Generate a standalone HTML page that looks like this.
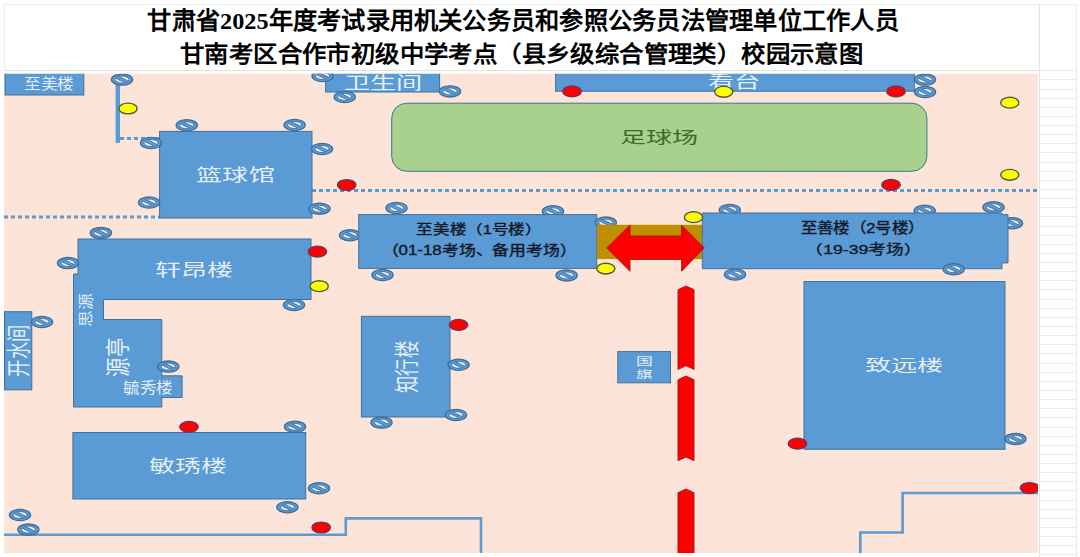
<!DOCTYPE html>
<html lang="zh-CN"><head><meta charset="utf-8"><style>
html,body{margin:0;padding:0;background:#fff;width:1080px;height:557px;overflow:hidden}
body{position:relative;font-family:"Liberation Sans",sans-serif}
.t{position:absolute;left:0;top:0;white-space:nowrap;line-height:1;transform-origin:0 0}
.title{position:absolute;left:0;top:0;font-family:"Liberation Serif",serif;font-weight:bold;font-size:24px;line-height:1;color:#000;white-space:nowrap;transform-origin:0 0}
.sf{font-family:"Liberation Serif",serif}
svg{position:absolute;left:0;top:0}
</style></head><body>
<div style="position:absolute;left:4px;top:4px;width:1071px;height:65px;border:1px solid #ececec;border-bottom-color:#e0e0e0;box-sizing:content-box"></div><div style="position:absolute;left:1039px;top:4px;width:1px;height:553px;background:#e2e2e2"></div><div style="position:absolute;left:1075.5px;top:4px;width:1px;height:553px;background:#ececec"></div><div style="position:absolute;left:1039px;top:70.2px;width:37px;height:1px;background:#ebebeb"></div><div style="position:absolute;left:1039px;top:79.3px;width:37px;height:1px;background:#ebebeb"></div><div style="position:absolute;left:1039px;top:88.5px;width:37px;height:1px;background:#ebebeb"></div><div style="position:absolute;left:1039px;top:97.6px;width:37px;height:1px;background:#ebebeb"></div><div style="position:absolute;left:1039px;top:106.7px;width:37px;height:1px;background:#ebebeb"></div><div style="position:absolute;left:1039px;top:115.9px;width:37px;height:1px;background:#ebebeb"></div><div style="position:absolute;left:1039px;top:125.0px;width:37px;height:1px;background:#ebebeb"></div><div style="position:absolute;left:1039px;top:134.1px;width:37px;height:1px;background:#ebebeb"></div><div style="position:absolute;left:1039px;top:143.3px;width:37px;height:1px;background:#ebebeb"></div><div style="position:absolute;left:1039px;top:152.4px;width:37px;height:1px;background:#ebebeb"></div><div style="position:absolute;left:1039px;top:161.6px;width:37px;height:1px;background:#ebebeb"></div><div style="position:absolute;left:1039px;top:170.7px;width:37px;height:1px;background:#ebebeb"></div><div style="position:absolute;left:1039px;top:179.8px;width:37px;height:1px;background:#ebebeb"></div><div style="position:absolute;left:1039px;top:189.0px;width:37px;height:1px;background:#ebebeb"></div><div style="position:absolute;left:1039px;top:198.1px;width:37px;height:1px;background:#ebebeb"></div><div style="position:absolute;left:1039px;top:207.2px;width:37px;height:1px;background:#ebebeb"></div><div style="position:absolute;left:1039px;top:216.4px;width:37px;height:1px;background:#ebebeb"></div><div style="position:absolute;left:1039px;top:225.5px;width:37px;height:1px;background:#ebebeb"></div><div style="position:absolute;left:1039px;top:234.6px;width:37px;height:1px;background:#ebebeb"></div><div style="position:absolute;left:1039px;top:243.8px;width:37px;height:1px;background:#ebebeb"></div><div style="position:absolute;left:1039px;top:252.9px;width:37px;height:1px;background:#ebebeb"></div><div style="position:absolute;left:1039px;top:262.0px;width:37px;height:1px;background:#ebebeb"></div><div style="position:absolute;left:1039px;top:271.2px;width:37px;height:1px;background:#ebebeb"></div><div style="position:absolute;left:1039px;top:280.3px;width:37px;height:1px;background:#ebebeb"></div><div style="position:absolute;left:1039px;top:289.4px;width:37px;height:1px;background:#ebebeb"></div><div style="position:absolute;left:1039px;top:298.6px;width:37px;height:1px;background:#ebebeb"></div><div style="position:absolute;left:1039px;top:307.7px;width:37px;height:1px;background:#ebebeb"></div><div style="position:absolute;left:1039px;top:316.8px;width:37px;height:1px;background:#ebebeb"></div><div style="position:absolute;left:1039px;top:326.0px;width:37px;height:1px;background:#ebebeb"></div><div style="position:absolute;left:1039px;top:335.1px;width:37px;height:1px;background:#ebebeb"></div><div style="position:absolute;left:1039px;top:344.2px;width:37px;height:1px;background:#ebebeb"></div><div style="position:absolute;left:1039px;top:353.4px;width:37px;height:1px;background:#ebebeb"></div><div style="position:absolute;left:1039px;top:362.5px;width:37px;height:1px;background:#ebebeb"></div><div style="position:absolute;left:1039px;top:371.7px;width:37px;height:1px;background:#ebebeb"></div><div style="position:absolute;left:1039px;top:380.8px;width:37px;height:1px;background:#ebebeb"></div><div style="position:absolute;left:1039px;top:389.9px;width:37px;height:1px;background:#ebebeb"></div><div style="position:absolute;left:1039px;top:399.1px;width:37px;height:1px;background:#ebebeb"></div><div style="position:absolute;left:1039px;top:408.2px;width:37px;height:1px;background:#ebebeb"></div><div style="position:absolute;left:1039px;top:417.3px;width:37px;height:1px;background:#ebebeb"></div><div style="position:absolute;left:1039px;top:426.5px;width:37px;height:1px;background:#ebebeb"></div><div style="position:absolute;left:1039px;top:435.6px;width:37px;height:1px;background:#ebebeb"></div><div style="position:absolute;left:1039px;top:444.7px;width:37px;height:1px;background:#ebebeb"></div><div style="position:absolute;left:1039px;top:453.9px;width:37px;height:1px;background:#ebebeb"></div><div style="position:absolute;left:1039px;top:463.0px;width:37px;height:1px;background:#ebebeb"></div><div style="position:absolute;left:1039px;top:472.1px;width:37px;height:1px;background:#ebebeb"></div><div style="position:absolute;left:1039px;top:481.3px;width:37px;height:1px;background:#ebebeb"></div><div style="position:absolute;left:1039px;top:490.4px;width:37px;height:1px;background:#ebebeb"></div><div style="position:absolute;left:1039px;top:499.5px;width:37px;height:1px;background:#ebebeb"></div><div style="position:absolute;left:1039px;top:508.7px;width:37px;height:1px;background:#ebebeb"></div><div style="position:absolute;left:1039px;top:517.8px;width:37px;height:1px;background:#ebebeb"></div><div style="position:absolute;left:1039px;top:527.0px;width:37px;height:1px;background:#ebebeb"></div><div style="position:absolute;left:1039px;top:536.1px;width:37px;height:1px;background:#ebebeb"></div><div style="position:absolute;left:1039px;top:545.2px;width:37px;height:1px;background:#ebebeb"></div><div style="position:absolute;left:1039px;top:554.4px;width:37px;height:1px;background:#ebebeb"></div>
<div class="title" style="transform:translate(523.10px,20.55px) scale(1.010,0.987) translate(-372.00px,-11.00px)">甘肃省<span class="sf">2025</span>年度考试录用机关公务员和参照公务员法管理单位工作人员</div><div class="title" style="transform:translate(521.60px,53.15px) scale(1.017,0.929) translate(-336.00px,-11.00px)">甘南考区合作市初级中学考点（县乡级综合管理类）校园示意图</div>
<div style="position:absolute;left:0;top:0;width:1080px;height:557px;clip-path:inset(73.8px 42px 4px 4px)">
<div style="position:absolute;left:0;top:0;width:1080px;height:557px;background:#fce4d8"></div>
<svg width="1080" height="557"><defs><clipPath id="ci"><ellipse cx="0" cy="0" rx="7.1" ry="3.5"/></clipPath>
<g id="no"><ellipse cx="0" cy="0" rx="10.6" ry="5.6" fill="#5b9bd5" stroke="#3d6d98" stroke-width="1.3"/>
<ellipse cx="0" cy="0" rx="7.1" ry="3.5" fill="#e9ecf6" stroke="#3d6d98" stroke-width="0.9"/>
<g clip-path="url(#ci)"><line x1="-9" y1="-4.4" x2="9" y2="4.4" stroke="#3d6d98" stroke-width="3.6"/><line x1="-9" y1="-4.4" x2="9" y2="4.4" stroke="#5b9bd5" stroke-width="2.2"/></g></g></defs><line x1="120" y1="138.4" x2="160" y2="138.4" stroke="#5b9bd5" stroke-width="3" stroke-dasharray="4 3"/><line x1="312" y1="190.5" x2="1039" y2="190.5" stroke="#5b9bd5" stroke-width="3" stroke-dasharray="4 3"/><line x1="4" y1="217" x2="160" y2="217" stroke="#5b9bd5" stroke-width="3" stroke-dasharray="4 3"/><rect x="115.6" y="79" width="4.4" height="64" fill="#5b9bd5"/><polyline points="4,534.8 345.8,534.8 345.8,518.4 481,518.4 481,560" fill="none" stroke="#5b9bd5" stroke-width="2.6"/><polyline points="1040,493 902.6,493 902.6,532.5 860.3,532.5 860.3,560" fill="none" stroke="#5b9bd5" stroke-width="2.6"/><use href="#no" x="396.5" y="208"/><use href="#no" x="553" y="211.3"/><use href="#no" x="350" y="235.2"/><use href="#no" x="382.5" y="275"/><use href="#no" x="566.6" y="275.4"/><use href="#no" x="729.8" y="210"/><use href="#no" x="735" y="274.5"/><use href="#no" x="924.7" y="210.7"/><use href="#no" x="993.5" y="207.3"/><use href="#no" x="1012" y="223.2"/><rect x="5" y="66" width="78.80" height="29.00" fill="#5b9bd5" stroke="#41719c" stroke-width="1"/><rect x="325.6" y="66" width="114.00" height="26.00" fill="#5b9bd5" stroke="#41719c" stroke-width="1"/><rect x="555.6" y="66" width="358.70" height="25.20" fill="#5b9bd5" stroke="#41719c" stroke-width="1"/><rect x="391.7" y="103.2" width="535.20" height="68.10" rx="15" fill="#a9d18e" stroke="#41719c" stroke-width="1"/><rect x="159.6" y="131.4" width="152.40" height="86.60" fill="#5b9bd5" stroke="#41719c" stroke-width="1"/><rect x="78" y="239" width="233.00" height="60.50" fill="#5b9bd5" stroke="#41719c" stroke-width="1"/><polygon points="73.5,274 103.5,274 103.5,319.5 161.8,319.5 161.8,407 73.5,407" fill="#5b9bd5" stroke="none" stroke-width="0"/><polyline points="78.5,274 73.5,274 73.5,407 161.8,407 161.8,319.5 103.5,319.5 103.5,299.5" fill="none" stroke="#41719c" stroke-width="1"/><rect x="161.3" y="375.8" width="20.80" height="21.70" fill="#5b9bd5" stroke="none" stroke-width="0"/><polyline points="161.3,375.8 182.1,375.8 182.1,397.5 161.3,397.5" fill="none" stroke="#41719c" stroke-width="1"/><rect x="4.5" y="311.7" width="27.30" height="78.10" fill="#5b9bd5" stroke="#41719c" stroke-width="1"/><rect x="72.9" y="432.5" width="232.80" height="66.50" fill="#5b9bd5" stroke="#41719c" stroke-width="1"/><rect x="358.7" y="214.6" width="238.10" height="53.80" fill="#5b9bd5" stroke="#41719c" stroke-width="1"/><use href="#no" x="605.8" y="222.6"/><rect x="597" y="224.8" width="106.8" height="34.3" fill="#bf8f00"/><polygon points="702.3,213 1002,213 1002,214.6 1008,214.6 1008,262.9 1002,262.9 1002,268.7 702.3,268.7" fill="#5b9bd5" stroke="#41719c" stroke-width="1"/><rect x="361.4" y="316.3" width="88.60" height="100.70" fill="#5b9bd5" stroke="#41719c" stroke-width="1"/><rect x="617.8" y="351.6" width="52.70" height="31.20" fill="#5b9bd5" stroke="#41719c" stroke-width="1"/><rect x="804" y="281.5" width="201.00" height="167.80" fill="#5b9bd5" stroke="#41719c" stroke-width="1"/></svg>
<div class="t" style="font-size:16px;color:rgba(255,255,255,0.85);transform:translate(49.00px,83.95px) scale(1.043,0.894) translate(-24.00px,-7.00px)">至美楼</div><div class="t" style="font-size:19px;color:rgba(255,255,255,0.85);transform:translate(382.35px,82.20px) scale(1.383,0.895) translate(-28.00px,-8.50px)">卫生间</div><div class="t" style="font-size:19px;color:rgba(255,255,255,0.85);transform:translate(733.75px,81.70px) scale(1.380,0.895) translate(-18.50px,-8.50px)">看台</div><div class="t" style="font-size:19px;color:#3b6a2c;transform:translate(658.90px,136.95px) scale(1.375,0.847) translate(-28.50px,-8.50px)">足球场</div><div class="t" style="font-size:19px;color:rgba(255,255,255,0.85);transform:translate(235.50px,174.70px) scale(1.371,0.884) translate(-28.50px,-8.50px)">篮球馆</div><div class="t" style="font-size:19px;color:rgba(255,255,255,0.85);transform:translate(193.95px,268.85px) scale(1.369,0.911) translate(-28.50px,-8.50px)">轩昂楼</div><div class="t" style="font-size:19px;color:rgba(255,255,255,0.85);transform:translate(188.45px,465.60px) scale(1.369,0.884) translate(-28.50px,-8.50px)">敏琇楼</div><div class="t" style="font-size:19px;color:rgba(255,255,255,0.85);transform:translate(904.25px,365.10px) scale(1.380,0.832) translate(-28.50px,-8.50px)">致远楼</div><div class="t" style="font-size:19px;color:rgba(255,255,255,0.85);transform:translate(405.75px,367.05px) rotate(-90deg) scale(0.915,1.321) translate(-28.50px,-8.50px)">知行楼</div><div class="t" style="font-size:12px;color:rgba(255,255,255,0.85);transform:translate(644.00px,360.75px) scale(1.400,0.882) translate(-6.00px,-5.50px)">国</div><div class="t" style="font-size:12px;color:rgba(255,255,255,0.85);transform:translate(644.00px,373.65px) scale(1.400,0.808) translate(-6.00px,-5.00px)">旗</div><div class="t" style="font-size:15px;color:rgba(255,255,255,0.85);transform:translate(85.25px,309.70px) rotate(-90deg) scale(1.121,1.021) translate(-15.00px,-7.00px)">思源</div><div class="t" style="font-size:19px;color:rgba(255,255,255,0.85);transform:translate(117.55px,357.30px) rotate(-90deg) scale(1.022,1.321) translate(-19.00px,-8.50px)">源亭</div><div class="t" style="font-size:19px;color:rgba(255,255,255,0.85);transform:translate(17.50px,351.00px) rotate(-90deg) scale(0.911,1.274) translate(-28.00px,-8.50px)">开水间</div><div class="t" style="font-size:16px;color:rgba(255,255,255,0.85);transform:translate(148.20px,387.35px) scale(1.035,0.956) translate(-24.00px,-7.00px)">毓秀楼</div><div class="t" style="font-size:15px;color:#121826;-webkit-text-stroke:0.4px #121826;transform:translate(473.80px,227.80px) scale(1.104,0.880) translate(-52.00px,-6.50px)">至美楼（1号楼）</div><div class="t" style="font-size:15px;color:#121826;-webkit-text-stroke:0.4px #121826;transform:translate(477.35px,248.45px) scale(1.126,0.940) translate(-85.00px,-6.50px)">（01-18考场、备用考场）</div><div class="t" style="font-size:15px;color:#121826;-webkit-text-stroke:0.4px #121826;transform:translate(857.55px,226.85px) scale(1.097,0.967) translate(-52.00px,-6.50px)">至善楼（2号楼）</div><div class="t" style="font-size:15px;color:#121826;-webkit-text-stroke:0.4px #121826;transform:translate(861.50px,247.90px) scale(1.179,0.880) translate(-47.50px,-6.50px)">（19-39考场）</div>
<svg width="1080" height="557"><polygon points="606.8,247.8 630,225.2 630,236 681.6,236 681.6,225.2 704.2,247.8 681.6,271.3 681.6,259.5 630,259.5 630,271.3" fill="#ff0000" stroke="#a31515" stroke-width="0.9"/><polygon points="678,289.7 686.0,286 694,289.7 694,369.4 686.0,365.7 678,369.4" fill="#ff0000" stroke="#a31515" stroke-width="0.9"/><polygon points="678,379.7 686.0,376 694,379.7 694,460.7 686.0,457.0 678,460.7" fill="#ff0000" stroke="#a31515" stroke-width="0.9"/><polygon points="678,492.7 686.0,489 694,492.7 694,560 678,560" fill="#ff0000" stroke="#a31515" stroke-width="0.9"/><ellipse cx="346.7" cy="185" rx="9.3" ry="5.5" fill="#ff0000" stroke="#5a3a6a" stroke-width="1.2"/><ellipse cx="572" cy="91.4" rx="9.3" ry="5.5" fill="#ff0000" stroke="#5a3a6a" stroke-width="1.2"/><ellipse cx="896" cy="91.4" rx="9.3" ry="5.5" fill="#ff0000" stroke="#5a3a6a" stroke-width="1.2"/><ellipse cx="891" cy="184.9" rx="9.3" ry="5.5" fill="#ff0000" stroke="#5a3a6a" stroke-width="1.2"/><ellipse cx="317.4" cy="251.6" rx="9.3" ry="5.5" fill="#ff0000" stroke="#5a3a6a" stroke-width="1.2"/><ellipse cx="458.5" cy="324.9" rx="9.3" ry="5.5" fill="#ff0000" stroke="#5a3a6a" stroke-width="1.2"/><ellipse cx="189" cy="426.9" rx="9.3" ry="5.5" fill="#ff0000" stroke="#5a3a6a" stroke-width="1.2"/><ellipse cx="321.2" cy="527.5" rx="9.3" ry="5.5" fill="#ff0000" stroke="#5a3a6a" stroke-width="1.2"/><ellipse cx="797.5" cy="443.7" rx="9.3" ry="5.5" fill="#ff0000" stroke="#5a3a6a" stroke-width="1.2"/><ellipse cx="1029.5" cy="488" rx="9.3" ry="5.5" fill="#ff0000" stroke="#5a3a6a" stroke-width="1.2"/><ellipse cx="128" cy="108.5" rx="9.1" ry="5.4" fill="#ffff00" stroke="#4a5e3c" stroke-width="1.4"/><ellipse cx="723.7" cy="91.8" rx="9.1" ry="5.4" fill="#ffff00" stroke="#4a5e3c" stroke-width="1.4"/><ellipse cx="1009.8" cy="102.7" rx="9.1" ry="5.4" fill="#ffff00" stroke="#4a5e3c" stroke-width="1.4"/><ellipse cx="1009.8" cy="174.8" rx="9.1" ry="5.4" fill="#ffff00" stroke="#4a5e3c" stroke-width="1.4"/><ellipse cx="319.2" cy="286.2" rx="9.1" ry="5.4" fill="#ffff00" stroke="#4a5e3c" stroke-width="1.4"/><ellipse cx="605.8" cy="268.6" rx="9.1" ry="5.4" fill="#ffff00" stroke="#4a5e3c" stroke-width="1.4"/><ellipse cx="693.5" cy="217.2" rx="9.1" ry="5.4" fill="#ffff00" stroke="#4a5e3c" stroke-width="1.4"/><use href="#no" x="122" y="79.6"/><use href="#no" x="186.8" y="125.3"/><use href="#no" x="294.6" y="125"/><use href="#no" x="151" y="143"/><use href="#no" x="322" y="149"/><use href="#no" x="149" y="202.5"/><use href="#no" x="319.5" y="208.7"/><use href="#no" x="322.6" y="76"/><use href="#no" x="344.7" y="97"/><use href="#no" x="450" y="91.4"/><use href="#no" x="925" y="79.6"/><use href="#no" x="925" y="92"/><use href="#no" x="100.9" y="232.9"/><use href="#no" x="68" y="263.1"/><use href="#no" x="42" y="322"/><use href="#no" x="294" y="305"/><use href="#no" x="953.7" y="269.2"/><use href="#no" x="168.3" y="366.6"/><use href="#no" x="458.6" y="364.8"/><use href="#no" x="456" y="415"/><use href="#no" x="381.5" y="422.6"/><use href="#no" x="1015.4" y="438.9"/><use href="#no" x="295" y="426.8"/><use href="#no" x="319" y="488.3"/><use href="#no" x="287.4" y="507.2"/><use href="#no" x="20" y="515"/><use href="#no" x="28.4" y="529.6"/></svg>
</div>
</body></html>
